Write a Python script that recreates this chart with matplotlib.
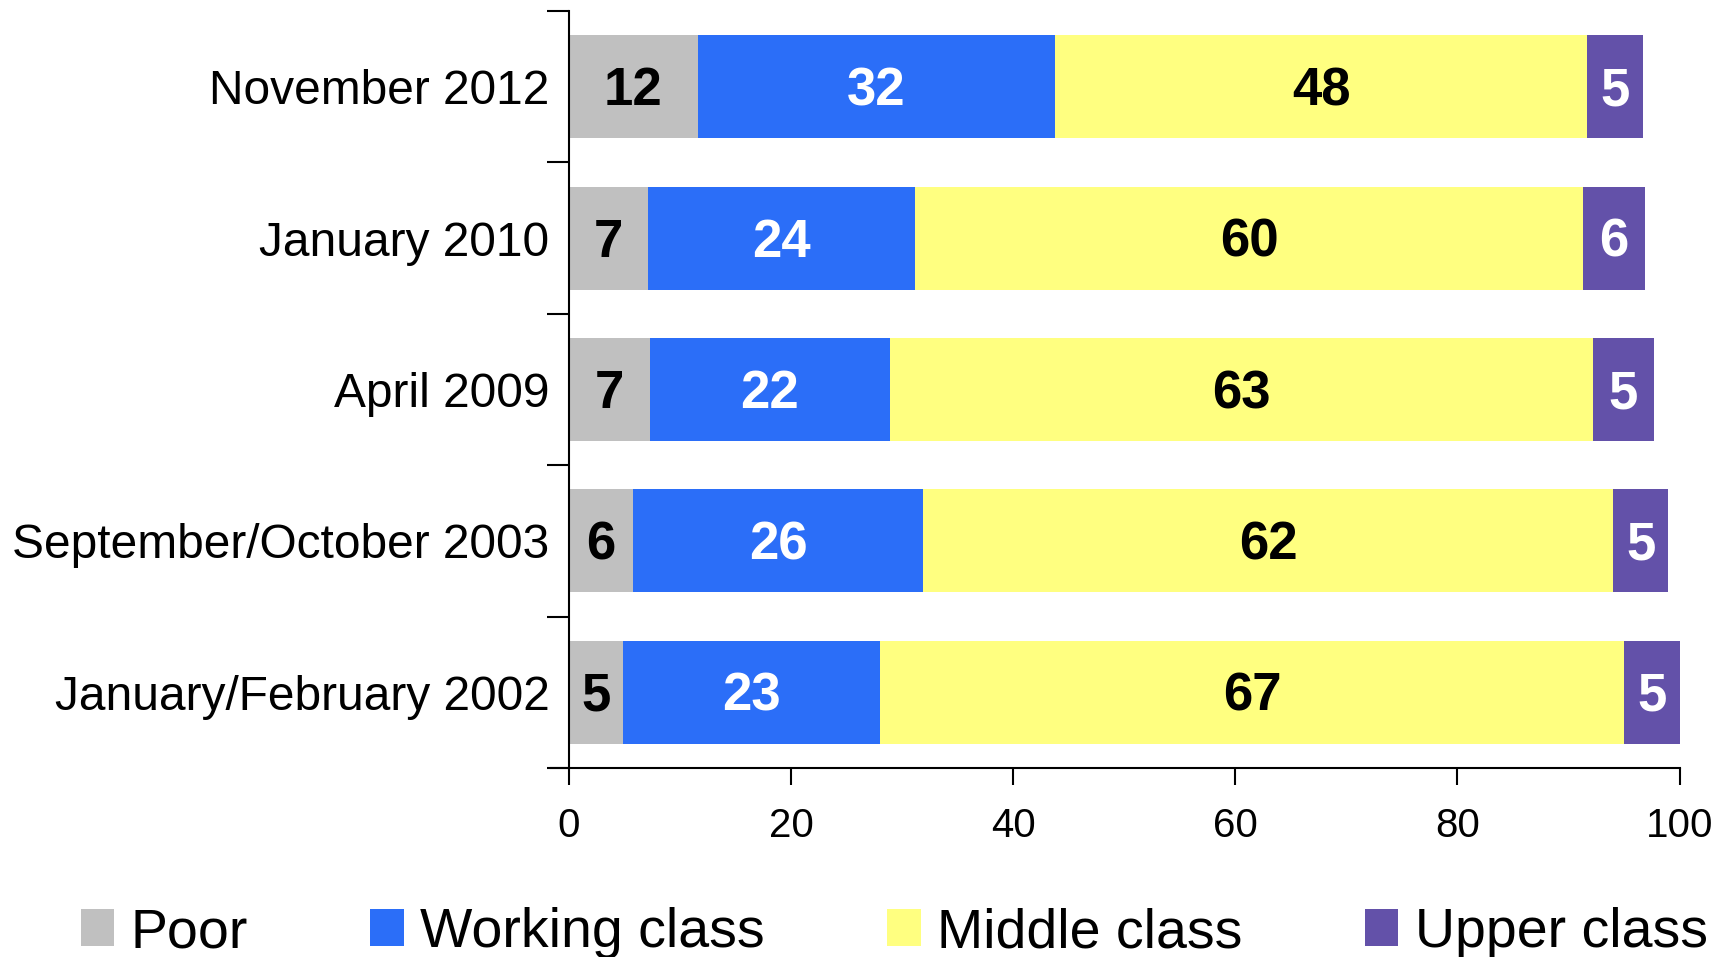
import matplotlib
matplotlib.use("Agg")
import matplotlib.pyplot as plt
import numpy as np

plt.rcParams['font.family'] = ['Liberation Sans', 'DejaVu Sans']

# survey waves, top to bottom
waves = ["November 2012", "January 2010", "April 2009",
         "September/October 2003", "January/February 2002"]
classes = ["Poor", "Working class", "Middle class", "Upper class"]

# bar lengths (as drawn) and printed labels
poor = [11.6, 7.1, 7.3, 5.8, 4.9]
working = [32.2, 24.1, 21.6, 26.1, 23.1]
middle = [47.9, 60.1, 63.3, 62.1, 67.0]
upper = [5.0, 5.6, 5.5, 5.0, 5.1]
poor_lbl = [12, 7, 7, 6, 5]
working_lbl = [32, 24, 22, 26, 23]
middle_lbl = [48, 60, 63, 62, 67]
upper_lbl = [5, 6, 5, 5, 5]

colors = ["#C0C0C0", "#2B6EF8", "#FFFF80", "#6351A9"]
text_colors = ["black", "white", "black", "white"]

fig = plt.figure(figsize=(17.2, 9.57), dpi=100)
ax = fig.add_axes([0.3308, 0.1975, 0.9765 - 0.3308, 0.9885 - 0.1975])

y = np.arange(len(waves))
left = np.zeros(len(waves))
series = [(poor, poor_lbl), (working, working_lbl), (middle, middle_lbl), (upper, upper_lbl)]
for (vals, lbls), name, c, tc in zip(series, classes, colors, text_colors):
    bars = ax.barh(y, vals, left=left, height=0.68, color=c, label=name)
    for b, v, l in zip(bars, vals, lbls):
        ax.text(b.get_x() + v / 2, b.get_y() + b.get_height() / 2 + 0.03, str(l),
                ha='center', va='center', color=tc, fontsize=38, fontweight='bold')
    left += np.array(vals)

ax.set_ylim(len(waves) - 0.5, -0.5)
ax.set_xlim(0, 100)
ax.set_yticks(y)
ax.set_yticklabels(waves, fontsize=34.5)
ax.set_yticks(np.arange(-0.5, len(waves), 1), minor=True)
ax.tick_params(axis='y', which='major', length=0, pad=14)
ax.tick_params(axis='y', which='minor', length=16, width=1.5, direction='out')
ax.set_xticks([0, 20, 40, 60, 80, 100])
ax.tick_params(axis='x', labelsize=29, length=12, width=1.5, pad=16)

for s in ['top', 'right']:
    ax.spines[s].set_visible(False)
ax.spines['left'].set_linewidth(1.5)
ax.spines['bottom'].set_linewidth(1.5)
ax.spines['bottom'].set_bounds(-1.6, 100)

fig.legend(loc='center', bbox_to_anchor=(0.52, 0.025), ncol=4, frameon=False,
           fontsize=40, handlelength=0.6, handleheight=0.65, handletextpad=0.3,
           columnspacing=2.2, borderaxespad=0)

fig.savefig("out.png", dpi=100)
